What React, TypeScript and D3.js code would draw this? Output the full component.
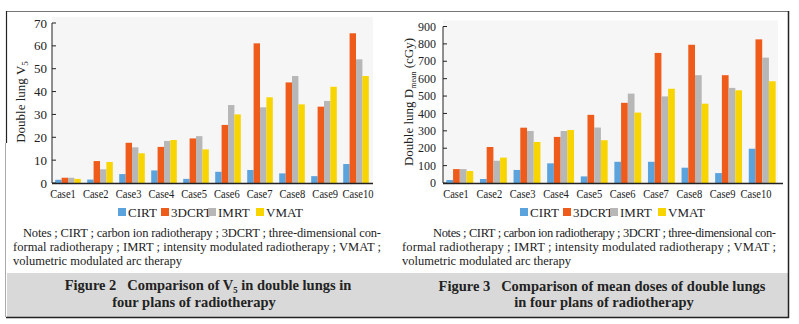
import React from "react";
import * as d3 from "d3";

const cases = ["Case1", "Case2", "Case3", "Case4", "Case5", "Case6", "Case7", "Case8", "Case9", "Case10"];
const seriesNames = ["CIRT", "3DCRT", "IMRT", "VMAT"];
const seriesColors = ["#5ba3dd", "#ef5b1b", "#b7b7b7", "#f8d400"];

// Figure 2: V5 (%)
const v5CIRT = [1.4, 1.5, 3.9, 5.5, 1.8, 4.9, 5.7, 4.2, 3.0, 8.3];
const v5_3DCRT = [2.3, 9.6, 17.6, 15.8, 19.5, 25.4, 61.1, 44.0, 33.4, 65.5];
const v5IMRT = [2.3, 6.0, 15.6, 18.4, 20.5, 34.1, 33.1, 46.8, 35.9, 54.1];
const v5VMAT = [1.8, 9.2, 13.0, 18.8, 14.7, 30.0, 37.5, 34.4, 42.1, 46.8];
const v5Ticks = [0, 10, 20, 30, 40, 50, 60, 70];

// Figure 3: Dmean (cGy)
const dCIRT = [17, 23, 75, 113, 38, 122, 122, 88, 57, 197];
const d3DCRT = [80, 207, 318, 265, 392, 461, 748, 795, 620, 826];
const dIMRT = [80, 128, 299, 299, 319, 514, 498, 620, 547, 721];
const dVMAT = [69, 146, 236, 305, 246, 405, 542, 456, 533, 585];
const dTicks = [0, 100, 200, 300, 400, 500, 600, 700, 800, 900];

const notesLines = [
  "Notes ; CIRT ; carbon ion radiotherapy ; 3DCRT ; three-dimensional con-",
  "formal radiotherapy ; IMRT ; intensity modulated radiotherapy ; VMAT ;",
  "volumetric modulated arc therapy",
];

const serif = "Liberation Serif, Times New Roman, serif";

type PanelProps = {
  series: number[][];
  ticks: number[];
  yMax: number;
  x0: number;
  x1: number;
  barRange: [number, number];
  labelRange: [number, number];
  bgRight: number;
  yTop: number;
  tickFont: number;
  tickGap: number;
  title: React.ReactNode;
  titleX: number;
  legendX: number;
  notesX: [number, number];
  notesRight: number;
  caption: [string, string];
  captionX: [number, number];
  captionY: [number, number];
};

function Panel(p: PanelProps) {
  const yBottom = 183;
  const y = d3.scaleLinear().domain([0, p.yMax]).range([yBottom, p.yTop]);
  const xb = d3.scaleBand<string>().domain(cases).range(p.barRange).paddingInner(0.2).paddingOuter(0.1);
  const xs = d3.scaleBand<string>().domain(seriesNames).range([0, xb.bandwidth()]).padding(0);
  const xl = d3.scalePoint<string>().domain(cases).range(p.labelRange);
  const legendOffsets = [0, 43, 90, 138];
  return (
    <g fontFamily={serif}>
      <rect x={p.x0} y={y(p.yMax) - 6} width={p.bgRight - p.x0} height={yBottom - y(p.yMax) + 6} fill="#f6f6f6" />
      {p.series.map((vals, si) =>
        vals.map((v, ci) => (
          <rect
            key={`${si}-${ci}`}
            x={(xb(cases[ci]) as number) + (xs(seriesNames[si]) as number)}
            y={y(v)}
            width={xs.bandwidth()}
            height={yBottom - y(v)}
            fill={seriesColors[si]}
          />
        ))
      )}
      {/* y axis */}
      <line x1={p.x0} x2={p.x0} y1={y(p.yMax)} y2={yBottom} stroke="#222" strokeWidth={1} />
      {p.ticks.map((t) => (
        <g key={t}>
          <line x1={p.x0} x2={p.x0 + 4} y1={y(t)} y2={y(t)} stroke="#222" strokeWidth={1} />
          <text x={p.x0 - p.tickGap} y={y(t)} dy="0.35em" textAnchor="end" fontSize={p.tickFont} fill="#222">
            {t}
          </text>
        </g>
      ))}
      {/* x axis */}
      <line x1={p.x0} x2={p.x1} y1={yBottom + 0.5} y2={yBottom + 0.5} stroke="#222" strokeWidth={1.5} />
      {cases.map((c) => (
        <g key={c} transform={`translate(${xl(c)},197.5) scale(0.78,1)`}>
          <text textAnchor="middle" fontSize={13.5} fill="#222">
            {c}
          </text>
        </g>
      ))}
      {/* y title */}
      <text transform={`translate(${p.titleX},102) rotate(-90)`} textAnchor="middle" fontSize={13} fill="#222">
        {p.title}
      </text>
      {/* legend */}
      {seriesNames.map((s, i) => (
        <g key={s} transform={`translate(${p.legendX + legendOffsets[i]},208)`}>
          <rect x={0} y={0} width={8} height={8} fill={seriesColors[i]} />
          <text x={10} y={8.5} fontSize={13} fill="#222">
            {s}
          </text>
        </g>
      ))}
      {/* notes */}
      <text x={p.notesX[0]} y={237} fontSize={12.5} fill="#222" textLength={p.notesRight - p.notesX[0]} lengthAdjust="spacing">
        {notesLines[0]}
      </text>
      <text x={p.notesX[1]} y={251} fontSize={12.5} fill="#222" textLength={p.notesRight - p.notesX[1]} lengthAdjust="spacing">
        {notesLines[1]}
      </text>
      <text x={p.notesX[1]} y={265} fontSize={12.5} fill="#222">
        {notesLines[2]}
      </text>
      {/* caption */}
      <text x={p.captionX[0]} y={p.captionY[0]} textAnchor="middle" fontSize={14.5} fontWeight="bold" fill="#222" style={{ whiteSpace: "pre" }}>
        {p.caption[0]}
      </text>
      <text x={p.captionX[1]} y={p.captionY[1]} textAnchor="middle" fontSize={14.5} fontWeight="bold" fill="#222">
        {p.caption[1]}
      </text>
    </g>
  );
}

export default function App() {
  return (
    <svg width={799} height={324} style={{ position: "absolute", left: 0, top: 0, background: "#fff" }}>
      <rect x={0} y={0} width={799} height={324} fill="#fff" />
      <rect x={7} y={273} width={781} height={44} fill="#d9d9d9" />
      <line x1={6} x2={789} y1={11.5} y2={11.5} stroke="#777" strokeWidth={1.2} />
      <line x1={6.5} x2={6.5} y1={11} y2={143} stroke="#222" strokeWidth={1.2} />
      <line x1={5.5} x2={5.5} y1={143} y2={317} stroke="#aaa" strokeWidth={1} />
      <line x1={788.5} x2={788.5} y1={11} y2={318} stroke="#222" strokeWidth={1.5} />
      <line x1={6} x2={789} y1={317.5} y2={317.5} stroke="#222" strokeWidth={1.5} />
      <Panel
        series={[v5CIRT, v5_3DCRT, v5IMRT, v5VMAT]}
        ticks={v5Ticks}
        yMax={70}
        x0={52}
        x1={373}
        barRange={[52, 372]}
        labelRange={[63, 358]}
        bgRight={373}
        yTop={23}
        tickFont={13}
        tickGap={5}
        title={
          <>
            Double lung V<tspan fontSize={9} dy={3}>5</tspan>
          </>
        }
        titleX={25}
        legendX={118}
        notesX={[23, 13]}
        notesRight={381}
        caption={["Figure 2   Comparison of V\u2085 in double lungs in", "four plans of radiotherapy"]}
        captionX={[208, 194]}
        captionY={[290, 307]}
      />
      <Panel
        series={[dCIRT, d3DCRT, dIMRT, dVMAT]}
        ticks={dTicks}
        yMax={900}
        x0={443}
        x1={783}
        barRange={[443, 779]}
        labelRange={[456, 756]}
        bgRight={778}
        yTop={26.5}
        tickFont={12}
        tickGap={7}
        title={
          <>
            Double lung D<tspan fontSize={8} dy={3}>mean</tspan>
            <tspan dy={-3}> (cGy)</tspan>
          </>
        }
        titleX={413}
        legendX={520}
        notesX={[433, 402]}
        notesRight={776}
        caption={["Figure 3   Comparison of mean doses of double lungs", "in four plans of radiotherapy"]}
        captionX={[602, 604]}
        captionY={[291, 307]}
      />
    </svg>
  );
}
